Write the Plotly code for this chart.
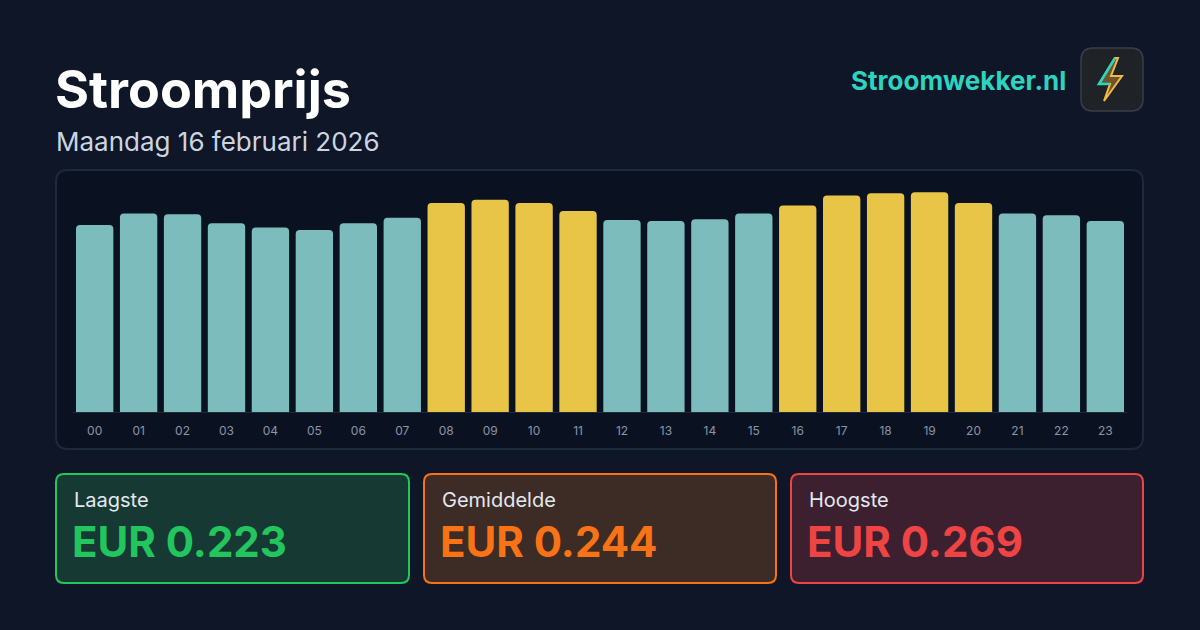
import plotly.graph_objects as go

hours = [f"{h:02d}" for h in range(24)]
prices = [0.229, 0.243, 0.242, 0.231, 0.226, 0.223, 0.231, 0.238,
          0.256, 0.260, 0.256, 0.246, 0.235, 0.234, 0.236, 0.243,
          0.253, 0.265, 0.268, 0.269, 0.256, 0.243, 0.241, 0.234]
card_labels = ["Laagste", "Gemiddelde", "Hoogste"]
card_values = [min(prices), sum(prices) / len(prices), max(prices)]

W, H = 1200, 630
def X(p): return p / W
def Y(p): return 1 - p / H

avg = card_values[1]
colors = ["#e8c547" if v > avg else "#7cbcbc" for v in prices]

fig = go.Figure(go.Bar(x=hours, y=prices, marker=dict(color=colors, line_width=0),
                       hoverinfo="skip"))

def rrect(x0, y0, x1, y1, r, fill, line, lw=1.5):
    path = (f"M {X(x0+r)},{Y(y0)} L {X(x1-r)},{Y(y0)} Q {X(x1)},{Y(y0)} {X(x1)},{Y(y0+r)} "
            f"L {X(x1)},{Y(y1-r)} Q {X(x1)},{Y(y1)} {X(x1-r)},{Y(y1)} "
            f"L {X(x0+r)},{Y(y1)} Q {X(x0)},{Y(y1)} {X(x0)},{Y(y1-r)} "
            f"L {X(x0)},{Y(y0+r)} Q {X(x0)},{Y(y0)} {X(x0+r)},{Y(y0)} Z")
    return dict(type="path", path=path, xref="paper", yref="paper", fillcolor=fill,
                line=dict(color=line, width=lw), layer="below")

shapes = [rrect(56, 170, 1143, 449, 12, "#0a1222", "#1e293b", 2),
          rrect(1081, 48, 1143, 111, 12, "#1f2226", "#3a3f47", 1.5)]
bolt = [(1115, 58), (1099, 84), (1110, 84), (1104, 101), (1122, 76), (1111, 76), (1118, 58)]
p = "M " + " L ".join(f"{X(a)},{Y(b)}" for a, b in bolt) + " Z"
shapes.append(dict(type="path", path=p, xref="paper", yref="paper", fillcolor="rgba(245,185,66,0.35)",
                   line=dict(color="#f5b942", width=2)))
bolt_top = [(1115, 58), (1099, 84), (1110, 84)]
shapes.append(dict(type="path", path="M " + " L ".join(f"{X(a)},{Y(b)}" for a, b in bolt_top),
                   xref="paper", yref="paper", line=dict(color="#2dd4bf", width=2.5)))

card_x = [(56, 409), (424, 776), (791, 1143)]
card_fill = ["#163a33", "#3d2b25", "#3c2030"]
card_line = ["#22c55e", "#f97316", "#ef4444"]
annotations = []
for (x0, x1), lab, val, f, l in zip(card_x, card_labels, card_values, card_fill, card_line):
    shapes.append(rrect(x0, 474, x1, 583, 8, f, l, 2))
    annotations.append(dict(x=X(x0 + 16), y=Y(500), xref="paper", yref="paper", text=lab,
                            showarrow=False, xanchor="left", yanchor="middle",
                            font=dict(size=20, color="#e2e8f0", family="Inter")))
    annotations.append(dict(x=X(x0 + 14), y=Y(541), xref="paper", yref="paper",
                            text=f"<b>EUR {val:.3f}</b>", showarrow=False, xanchor="left",
                            yanchor="middle", font=dict(size=42, color=l, family="Inter")))

annotations += [
    dict(x=X(53), y=Y(90), xref="paper", yref="paper", text="<b>Stroomprijs</b>", showarrow=False,
         xanchor="left", yanchor="middle", font=dict(size=52, color="#ffffff", family="Inter")),
    dict(x=X(54), y=Y(142), xref="paper", yref="paper", text="Maandag 16 februari 2026",
         showarrow=False, xanchor="left", yanchor="middle",
         font=dict(size=26, color="#cbd5e1", family="Inter")),
    dict(x=X(1068), y=Y(81), xref="paper", yref="paper", text="<b>Stroomwekker.nl</b>",
         showarrow=False, xanchor="right", yanchor="middle",
         font=dict(size=26, color="#2dd4bf", family="Inter")),
]

fig.update_layout(
    width=W, height=H, autosize=False, margin=dict(l=0, r=0, t=0, b=0),
    paper_bgcolor="#0e1628", plot_bgcolor="rgba(0,0,0,0)",
    bargap=0.15, barcornerradius=4, showlegend=False,
    shapes=shapes, annotations=annotations,
    xaxis=dict(domain=[X(72.7), X(1127.3)], showgrid=False, zeroline=False,
               showline=True, linecolor="#1e293b", linewidth=1,
               tickfont=dict(size=12, color="#8b95a5", family="Inter"), ticks="",
               ticklabelstandoff=8),
    yaxis=dict(domain=[Y(412), Y(167)], range=[0, 0.3], visible=False),
)
fig.write_html("out.html", config={"displayModeBar": False},
               post_script="document.body.style.margin='0';document.body.style.overflow='hidden';document.body.style.background='#0e1628';")
